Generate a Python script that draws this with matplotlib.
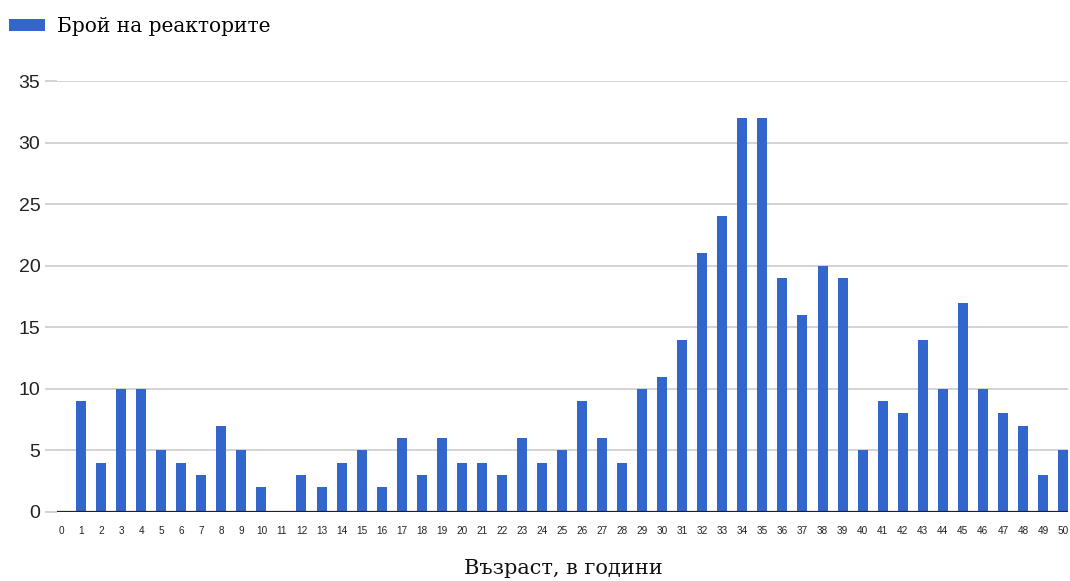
import numpy as np
import matplotlib.pyplot as plt

# age in years -> number of reactors
ages = list(range(0, 51))
counts = [0, 9, 4, 10, 10, 5, 4, 3, 7, 5,
          2, 0, 3, 2, 4, 5, 2, 6, 3, 6,
          4, 4, 3, 6, 4, 5, 9, 6, 4, 10,
          11, 14, 21, 24, 32, 32, 19, 16, 20, 19,
          5, 9, 8, 14, 10, 17, 10, 8, 7, 3, 5]
y_ticks = [0, 5, 10, 15, 20, 25, 30, 35]
series_name = 'Брой на реакторите'
x_title = 'Възраст, в години'

bar_color = '#3366cc'
grid_color = '#cccccc'

fig = plt.figure(figsize=(10.7, 5.81), dpi=100)
ax = fig.add_axes([57 / 1070, 69 / 581, 1011 / 1070, 431 / 581])

bars = ax.bar(ages, counts, width=0.5, color=bar_color, label=series_name, zorder=3)

ax.set_xlim(-0.2, 50.25)
ax.set_ylim(0, 35)
ax.set_yticks(y_ticks)
ax.set_xticks(ages)
ax.set_xticklabels([str(a) for a in ages], fontsize=7.2, family='Liberation Sans', color='#222222')
ax.set_yticklabels([str(v) for v in y_ticks], fontsize=14, family='Liberation Sans', color='#222222')

# horizontal grid, with ticks that poke out to the left like the grid
ax.yaxis.grid(True, color=grid_color, lw=1.2, zorder=0)
ax.tick_params(axis='y', length=9, width=1.2, color=grid_color, pad=3)
ax.tick_params(axis='x', length=0, pad=10)
for s in ax.spines.values():
    s.set_visible(False)
ax.axhline(0, color='#222222', lw=1.6, zorder=4)

fig.text(563 / 1070, 1 - 568 / 581, x_title, ha='center', va='center',
         fontsize=15, family='DejaVu Serif', color='#111111')

leg = ax.legend(loc='upper left', bbox_to_anchor=(0.0, 1 - 8 / 581), bbox_transform=fig.transFigure,
                frameon=False, prop={'family': 'DejaVu Serif', 'size': 14.5},
                handlelength=1.8, handleheight=0.6, handletextpad=0.6,
                borderaxespad=0.15, borderpad=0.3)

fig.savefig('out.png', dpi=100)
